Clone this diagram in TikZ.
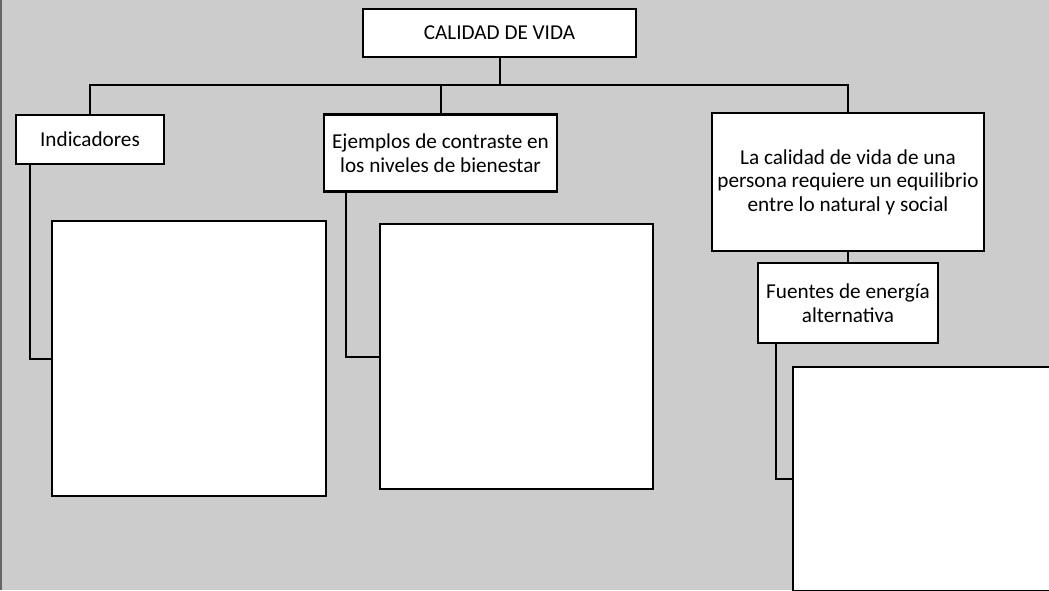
\documentclass[tikz,border=0pt]{standalone}
\usepackage{fontspec}
\setmainfont{Carlito}
\begin{document}
\begin{tikzpicture}[x=1pt,y=-1pt,
  box/.style={draw=black,line width=2.2pt,fill=white,inner sep=0pt,align=center,
    font=\fontsize{21.2}{23.5}\selectfont},
  conn/.style={draw=black,line width=2pt}]
\useasboundingbox (0,0) rectangle (1049,590);
\clip (0,0) rectangle (1049,590);
\fill[fill={rgb,255:red,204;green,204;blue,204}] (0,0) rectangle (1049,590);
\fill[fill={rgb,255:red,102;green,102;blue,102}] (0,0) rectangle (2,590);
% connectors bus coordinate
\coordinate (bus) at (499.5,85);
% nodes
\node[box,minimum width=273pt,minimum height=48pt] (cal) at (499.5,33) {CALIDAD DE VIDA};
\node[box,minimum width=148pt,minimum height=49pt] (ind) at (90,139.5) {Indicadores};
\node[box,minimum width=233pt,minimum height=77pt] (eje) at (440.5,153) {Ejemplos de contraste en\\los niveles de bienestar};
\node[box,minimum width=272pt,minimum height=138pt] (rb) at (848,182) {La calidad de vida de una\\persona requiere un equilibrio\\entre lo natural y social};
\node[box,minimum width=180pt,minimum height=80pt] (fue) at (848,303) {Fuentes de energía\\alternativa};
\node[box,minimum width=274pt,minimum height=275pt] (b1) at (189,358.5) {};
\node[box,minimum width=273pt,minimum height=265pt] (b2) at (516.5,356.5) {};
\node[box,minimum width=280pt,minimum height=224pt] (b3) at (933,479) {};
% connectors
\draw[conn] (cal.south) -- (cal.south |- bus);
\draw[conn] (ind.north) |- (rb.north |- bus) -- (rb.north);
\draw[conn] (eje.north) -- (eje.north |- bus);
\draw[conn] ([xshift=-60pt]ind.south) |- (b1.west);
\draw[conn] ([xshift=23pt]eje.south west) |- (b2.west);
\draw[conn] (rb.south) -- (fue.north);
\draw[conn] ([xshift=19pt]fue.south west) |- (b3.west);
\end{tikzpicture}
\end{document}
